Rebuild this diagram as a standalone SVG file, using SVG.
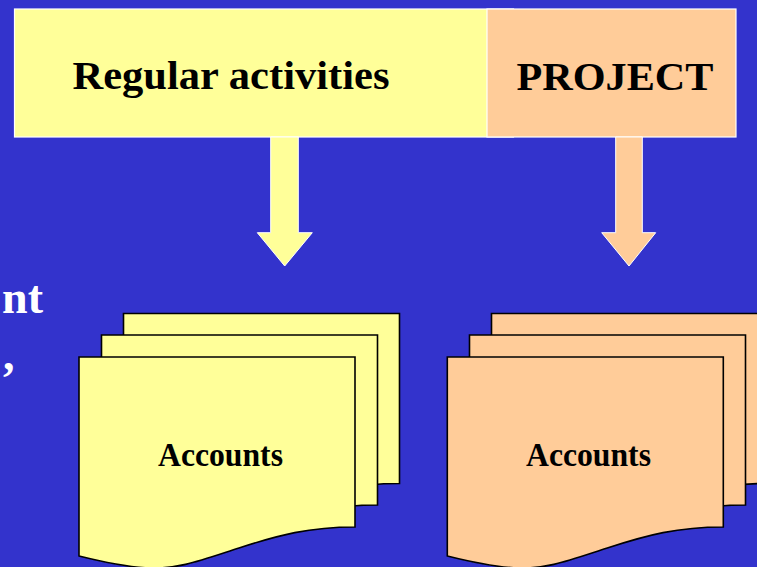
<svg xmlns="http://www.w3.org/2000/svg" xmlns:xlink="http://www.w3.org/1999/xlink" width="757" height="567" viewBox="0 0 757 567">
  <style>
    .t { font-family: "Liberation Serif", "Times New Roman", serif; font-weight: bold; fill: #000; }
    .w { font-family: "Liberation Serif", "Times New Roman", serif; font-weight: bold; fill: #fff; }
    .box { stroke: #ffffff; stroke-width: 1.2; }
    .y { fill: #FFFF99; }
    .o { fill: #FFCC99; }
    .doc { stroke: #000; stroke-width: 1.6; stroke-linejoin: miter; }
    .arr { stroke: #ffffff; stroke-width: 1; }
  </style>
  <defs>
    <path id="docshape" d="M0,0 H276 V170 C230,170 200,178 160,191 C120,204 100,212 70,211 C45,210 20,204 0,199 Z"/>
  </defs>
  <rect x="0" y="0" width="757" height="567" fill="#3333CC"/>

  <g id="side-text">
    <text class="w" x="43" y="313" font-size="46" text-anchor="end">nt</text>
    <text class="w" x="3" y="370" font-size="46">,</text>
  </g>

  <g id="regular-activities">
    <rect class="box y" x="14.5" y="9" width="499" height="128"/>
    <text class="t" x="72.5" y="88.5" font-size="41" textLength="317" lengthAdjust="spacingAndGlyphs">Regular activities</text>
  </g>

  <g id="project">
    <rect class="box o" x="487" y="9" width="249" height="128"/>
    <text class="t" x="516.5" y="90" font-size="41" textLength="197" lengthAdjust="spacingAndGlyphs">PROJECT</text>
  </g>

  <g id="connectors">
    <polygon class="arr y" points="270.7,137 298.3,137 298.3,232.7 312.3,232.7 284.7,266 257.3,232.7 270.7,232.7"/>
    <polygon class="arr o" points="615.7,137 642.3,137 642.3,232.7 655.7,232.7 629,266 601.7,232.7 615.7,232.7"/>
  </g>

  <g id="accounts-regular">
    <use xlink:href="#docshape" href="#docshape" class="doc y" x="123.5" y="313.5"/>
    <use xlink:href="#docshape" href="#docshape" class="doc y" x="101.5" y="335"/>
    <use xlink:href="#docshape" href="#docshape" class="doc y" x="79" y="357"/>
    <text class="t" x="158" y="466" font-size="33" textLength="125" lengthAdjust="spacingAndGlyphs">Accounts</text>
  </g>

  <g id="accounts-project">
    <use xlink:href="#docshape" href="#docshape" class="doc o" x="491.5" y="313.5"/>
    <use xlink:href="#docshape" href="#docshape" class="doc o" x="469.5" y="335"/>
    <use xlink:href="#docshape" href="#docshape" class="doc o" x="447.3" y="357"/>
    <text class="t" x="526" y="466" font-size="33" textLength="125" lengthAdjust="spacingAndGlyphs">Accounts</text>
  </g>
</svg>
